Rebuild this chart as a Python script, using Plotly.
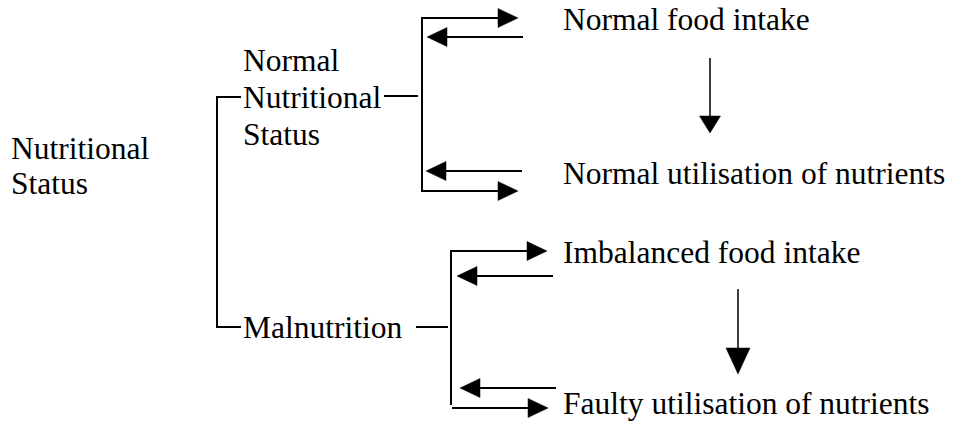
import plotly.graph_objects as go

# ---- diagram content ----
root_label = ["Nutritional", "Status"]
normal_label = ["Normal", "Nutritional", "Status"]
mal_label = ["Malnutrition"]
normal_outcomes = ["Normal food intake", "Normal utilisation of nutrients"]
mal_outcomes = ["Imbalanced food intake", "Faulty utilisation of nutrients"]

FONT = dict(family="Liberation Serif, Times New Roman, serif", size=31.5, color="black")
W, H = 959, 423

fig = go.Figure()
shapes = []
annotations = []

def text(x, baseline, s):
    annotations.append(dict(x=x, y=baseline - 9.6, text=s, showarrow=False,
                            xanchor="left", yanchor="middle", font=FONT,
                            xref="x", yref="y", borderpad=0))

def line(x0, y0, x1, y1, w=2):
    shapes.append(dict(type="line", x0=x0, y0=y0, x1=x1, y1=y1,
                       line=dict(color="black", width=w), xref="x", yref="y"))

def tri(pts):
    p = "M " + " L ".join(f"{x},{y}" for x, y in pts) + " Z"
    shapes.append(dict(type="path", path=p, fillcolor="black",
                       line=dict(color="black", width=0.5), xref="x", yref="y"))

def arrow_right(x0, x1, y, hl=20, hw=9.5):
    line(x0, y, x1 - hl + 1, y)
    tri([(x1 - hl, y - hw), (x1, y), (x1 - hl, y + hw)])

def arrow_left(x0, x1, y, hl=20, hw=9.5):
    # x0 = tail (right), x1 = tip (left)
    line(x0, y, x1 + hl - 1, y)
    tri([(x1 + hl, y - hw), (x1, y), (x1 + hl, y + hw)])

def arrow_down(x, y0, y1, hl, hw):
    line(x, y0, x, y1 - hl + 1, w=1.5)
    tri([(x - hw, y1 - hl), (x, y1), (x + hw, y1 - hl)])

# root
for i, s in enumerate(root_label):
    text(10, 158 + 35 * i, s)

# main bracket
line(217, 97, 217, 327)
line(216, 97, 241, 97)
line(216, 327, 241, 327)

# normal branch label
for i, s in enumerate(normal_label):
    text(242, 70 + 37 * i, s)
line(384, 96, 418, 96)

# normal bracket
line(422, 18, 422, 191)
arrow_right(421, 518, 18)
arrow_left(523, 427, 37)
arrow_left(522, 426, 171)
arrow_right(421, 518, 191)
text(562, 29, normal_outcomes[0])
text(562, 183, normal_outcomes[1])
arrow_down(710, 58, 133, 17, 10.5)

# malnutrition branch
text(242, 337, mal_label[0])
line(416, 327, 448, 327)
line(451, 250, 451, 405)
arrow_right(450, 547, 251)
arrow_left(553, 457, 276)
arrow_left(556, 460, 388)
arrow_right(452, 548, 408)
text(562, 262, mal_outcomes[0])
text(562, 413, mal_outcomes[1])
arrow_down(738, 289, 374, 26, 12)

fig.update_layout(
    width=W, height=H,
    margin=dict(l=0, r=0, t=0, b=0),
    paper_bgcolor="white", plot_bgcolor="white",
    xaxis=dict(range=[0, W], visible=False, fixedrange=True),
    yaxis=dict(range=[H, 0], visible=False, fixedrange=True),
    shapes=shapes, annotations=annotations,
    showlegend=False,
)
fig.write_html("out.html", config={"displayModeBar": False},
               post_script="document.body.style.margin='0';")
